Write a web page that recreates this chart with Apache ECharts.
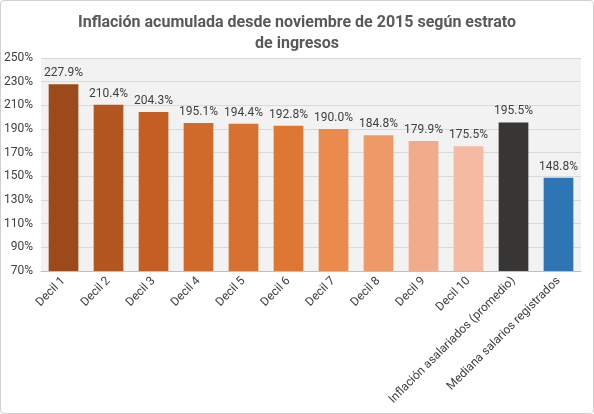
<!DOCTYPE html>
<html><head><meta charset="utf-8">
<script src="https://cdn.jsdelivr.net/npm/echarts@6/dist/echarts.min.js"></script>
<style>html,body{margin:0;padding:0;background:#fff}#c{width:594px;height:414px;box-sizing:border-box;border:1px solid #d0d0d0;border-radius:4px}</style>
</head><body><div id="c"></div>
<script>
const categories=["Decil 1","Decil 2","Decil 3","Decil 4","Decil 5","Decil 6","Decil 7","Decil 8","Decil 9","Decil 10","Inflación asalariados (promedio)","Mediana salarios registrados"];
const values=[227.9,210.4,204.3,195.1,194.4,192.8,190.0,184.8,179.9,175.5,195.5,148.8];
const colors=["#9C4A1B","#B4561F","#C35F22","#CF6A2B","#D6712F","#DE7734","#EA8A4C","#EE9A68","#F1AB8B","#F4BBA2","#383634","#2E75B6"];
const chart=echarts.init(document.getElementById('c'));
chart.setOption({
 title:{text:"Inflación acumulada desde noviembre de 2015 según estrato\nde ingresos",left:'center',top:6,textStyle:{fontFamily:'Roboto',fontSize:16,fontWeight:'bold',color:'#595959',lineHeight:21}},
 grid:{left:40,right:12,top:57,bottom:142,backgroundColor:'#F2F2F2',show:true,borderWidth:0},
 xAxis:{type:'category',data:categories,axisTick:{show:false},axisLine:{lineStyle:{color:'#bfbfbf'}},axisLabel:{rotate:45,interval:0,color:'#404040',fontSize:12,fontFamily:'Roboto',margin:8}},
 yAxis:{type:'value',min:70,max:250,interval:20,axisLabel:{formatter:'{value}%',color:'#404040',fontSize:12,fontFamily:'Roboto'},splitLine:{lineStyle:{color:'#d9d9d9'}}},
 series:[{type:'bar',barWidth:'66%',data:values.map((v,i)=>({value:v,itemStyle:{color:colors[i]}})),
  label:{show:true,position:'top',formatter:p=>p.value.toFixed(1)+'%',color:'#404040',fontSize:12,fontFamily:'Roboto'}}]
});
</script></body></html>
